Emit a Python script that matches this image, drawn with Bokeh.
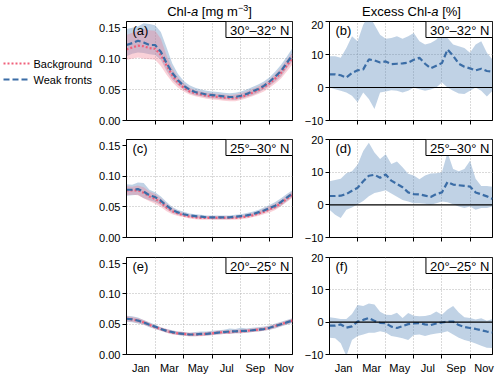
from bokeh.plotting import figure
from bokeh.layouts import column, row
from bokeh.models import (Range1d, FixedTicker, CustomJSTickFormatter, NumeralTickFormatter,
                          Label, Span)
from bokeh.embed import file_html
from bokeh.resources import INLINE

# ---------------- data ----------------
month = [0.0, 0.4, 0.8, 1.2, 1.6, 2.0, 2.4, 2.8, 3.2, 3.6, 4.0, 4.4, 4.8, 5.2, 5.6,
         6.0, 6.4, 6.8, 7.2, 7.6, 8.0, 8.4, 8.8, 9.2, 9.6, 10.0, 10.4, 10.8, 11.2, 11.6]
month_tick_pos = [1, 3, 5, 7, 9, 11]
month_tick_labels = ["Jan", "Mar", "May", "Jul", "Sep", "Nov"]
month_grid_pos = [2, 4, 6, 8, 10]
lat_bands = ["30°–32° N", "25°–30° N", "20°–25° N"]
letters_left = ["(a)", "(c)", "(e)"]
letters_right = ["(b)", "(d)", "(f)"]
legend_labels = ["Background", "Weak fronts"]

# 30-32 N  chlorophyll (mg m-3)
a_wf_mean = [0.122, 0.125, 0.129, 0.126, 0.122, 0.122, 0.111, 0.093, 0.077, 0.065, 0.056, 0.050, 0.046, 0.044, 0.042,
             0.041, 0.040, 0.039, 0.038, 0.038, 0.040, 0.043, 0.047, 0.051, 0.056, 0.063, 0.071, 0.080, 0.093, 0.106]
a_wf_hi = [0.148, 0.150, 0.152, 0.157, 0.156, 0.154, 0.143, 0.118, 0.092, 0.075, 0.064, 0.057, 0.053, 0.050, 0.048,
           0.047, 0.046, 0.045, 0.044, 0.045, 0.047, 0.050, 0.054, 0.058, 0.063, 0.070, 0.079, 0.090, 0.103, 0.117]
a_wf_lo = [0.104, 0.108, 0.110, 0.109, 0.107, 0.106, 0.098, 0.080, 0.066, 0.057, 0.050, 0.044, 0.041, 0.039, 0.037,
           0.036, 0.035, 0.034, 0.034, 0.033, 0.035, 0.038, 0.041, 0.045, 0.050, 0.056, 0.063, 0.071, 0.084, 0.096]
a_bg_mean = [0.115, 0.118, 0.121, 0.120, 0.117, 0.116, 0.106, 0.089, 0.073, 0.061, 0.053, 0.047, 0.044, 0.042, 0.040,
             0.039, 0.038, 0.037, 0.036, 0.036, 0.038, 0.041, 0.045, 0.049, 0.054, 0.060, 0.068, 0.077, 0.089, 0.101]
a_bg_hi = [0.138, 0.142, 0.145, 0.148, 0.146, 0.145, 0.132, 0.105, 0.084, 0.070, 0.060, 0.053, 0.049, 0.047, 0.045,
           0.044, 0.043, 0.042, 0.041, 0.042, 0.044, 0.047, 0.051, 0.055, 0.060, 0.066, 0.075, 0.085, 0.098, 0.110]
a_bg_lo = [0.098, 0.100, 0.102, 0.100, 0.099, 0.098, 0.088, 0.074, 0.062, 0.053, 0.047, 0.042, 0.039, 0.037, 0.035,
           0.034, 0.033, 0.032, 0.031, 0.031, 0.033, 0.036, 0.039, 0.043, 0.047, 0.053, 0.060, 0.068, 0.079, 0.091]

# 25-30 N
c_wf_mean = [0.078, 0.078, 0.079, 0.075, 0.069, 0.066, 0.060, 0.052, 0.045, 0.041, 0.038, 0.036, 0.035, 0.034, 0.033,
             0.033, 0.033, 0.033, 0.033, 0.034, 0.035, 0.036, 0.038, 0.041, 0.044, 0.048, 0.052, 0.058, 0.065, 0.072]
c_wf_hi = [0.087, 0.086, 0.090, 0.089, 0.078, 0.074, 0.067, 0.058, 0.050, 0.045, 0.042, 0.039, 0.038, 0.037, 0.036,
           0.036, 0.036, 0.036, 0.036, 0.037, 0.038, 0.040, 0.042, 0.045, 0.049, 0.053, 0.058, 0.064, 0.071, 0.077]
c_wf_lo = [0.068, 0.069, 0.070, 0.064, 0.061, 0.058, 0.053, 0.046, 0.040, 0.037, 0.035, 0.033, 0.032, 0.031, 0.031,
           0.030, 0.030, 0.030, 0.030, 0.031, 0.032, 0.033, 0.035, 0.037, 0.040, 0.044, 0.047, 0.052, 0.059, 0.066]
c_bg_mean = [0.077, 0.077, 0.077, 0.073, 0.067, 0.063, 0.057, 0.049, 0.043, 0.039, 0.036, 0.034, 0.033, 0.032, 0.032,
             0.032, 0.032, 0.032, 0.032, 0.032, 0.033, 0.034, 0.036, 0.039, 0.042, 0.046, 0.050, 0.056, 0.063, 0.070]
c_bg_hi = [0.084, 0.083, 0.085, 0.082, 0.075, 0.071, 0.064, 0.055, 0.048, 0.043, 0.040, 0.037, 0.036, 0.035, 0.035,
           0.035, 0.035, 0.035, 0.035, 0.035, 0.036, 0.038, 0.040, 0.043, 0.047, 0.051, 0.055, 0.061, 0.068, 0.075]
c_bg_lo = [0.069, 0.070, 0.069, 0.064, 0.059, 0.055, 0.050, 0.043, 0.038, 0.035, 0.033, 0.031, 0.030, 0.029, 0.029,
           0.029, 0.029, 0.029, 0.029, 0.029, 0.030, 0.031, 0.033, 0.035, 0.038, 0.041, 0.045, 0.051, 0.058, 0.065]

# 20-25 N
e_wf_mean = [0.059, 0.058, 0.056, 0.053, 0.049, 0.046, 0.042, 0.039, 0.037, 0.035, 0.034, 0.033, 0.033, 0.034, 0.034,
             0.035, 0.036, 0.037, 0.038, 0.038, 0.039, 0.039, 0.040, 0.041, 0.042, 0.044, 0.047, 0.050, 0.053, 0.056]
e_wf_hi = [0.064, 0.063, 0.061, 0.057, 0.053, 0.049, 0.045, 0.042, 0.040, 0.038, 0.037, 0.036, 0.037, 0.038, 0.038,
           0.039, 0.040, 0.041, 0.043, 0.042, 0.044, 0.043, 0.044, 0.045, 0.046, 0.048, 0.051, 0.054, 0.057, 0.060]
e_wf_lo = [0.054, 0.053, 0.051, 0.049, 0.045, 0.042, 0.039, 0.036, 0.034, 0.032, 0.031, 0.030, 0.030, 0.031, 0.031,
           0.032, 0.033, 0.034, 0.034, 0.035, 0.035, 0.036, 0.037, 0.038, 0.039, 0.041, 0.043, 0.046, 0.049, 0.052]
e_bg_mean = [0.059, 0.058, 0.056, 0.053, 0.049, 0.045, 0.042, 0.039, 0.036, 0.035, 0.034, 0.033, 0.033, 0.033, 0.034,
             0.035, 0.036, 0.037, 0.037, 0.038, 0.038, 0.039, 0.040, 0.041, 0.042, 0.044, 0.047, 0.050, 0.053, 0.056]
e_bg_hi = [0.063, 0.062, 0.060, 0.057, 0.052, 0.048, 0.045, 0.042, 0.039, 0.038, 0.037, 0.036, 0.036, 0.036, 0.037,
           0.038, 0.039, 0.040, 0.040, 0.041, 0.041, 0.042, 0.043, 0.044, 0.045, 0.047, 0.050, 0.053, 0.056, 0.059]
e_bg_lo = [0.055, 0.054, 0.052, 0.049, 0.046, 0.042, 0.039, 0.036, 0.033, 0.032, 0.031, 0.030, 0.030, 0.030, 0.031,
           0.032, 0.033, 0.034, 0.034, 0.035, 0.035, 0.036, 0.037, 0.038, 0.039, 0.041, 0.044, 0.047, 0.050, 0.053]

# Excess Chl-a (%)
b_mean = [4.0, 4.0, 3.7, 3.0, 4.4, 5.2, 5.5, 8.5, 8.2, 7.6, 7.9, 7.1, 7.2, 7.3, 7.5,
          8.4, 9.0, 7.2, 5.8, 6.6, 7.4, 11.5, 9.6, 7.2, 6.3, 5.8, 5.2, 5.7, 5.0, 4.8]
b_hi = [9.5, 9.5, 9.0, 12.0, 15.5, 14.0, 19.0, 22.0, 19.0, 16.0, 14.8, 15.0, 15.5, 14.8, 15.5,
        16.5, 14.0, 13.0, 13.5, 14.5, 16.5, 15.0, 13.0, 12.5, 12.0, 10.5, 13.0, 14.0, 10.5, 8.5]
b_lo = [0.0, -0.5, -1.0, -1.5, -2.5, -4.5, -1.5, -3.5, -6.5, -1.5, -1.2, -0.8, -1.0, -1.5, -1.0,
        0.0, -0.5, -1.0, -0.6, 0.0, 1.5, 0.0, -1.0, -1.8, -2.0, -1.0, 0.0, -1.0, -2.7, -1.0]

d_mean = [2.7, 2.7, 2.8, 3.3, 4.3, 5.2, 7.2, 8.9, 9.2, 8.3, 9.3, 7.4, 6.4, 5.4, 3.8,
          3.3, 3.2, 2.8, 2.4, 3.3, 3.8, 7.0, 6.2, 6.0, 5.8, 5.6, 3.8, 3.2, 2.6, 1.8]
d_hi = [7.2, 7.6, 8.0, 9.7, 10.3, 12.3, 16.5, 19.0, 16.0, 14.0, 15.5, 12.5, 13.3, 11.5, 9.5,
        9.0, 7.8, 9.0, 9.6, 9.7, 10.0, 16.0, 11.0, 10.3, 11.0, 13.5, 8.0, 5.8, 5.8, 5.5]
d_lo = [-1.5, -3.0, -4.0, -1.5, -0.8, 0.2, 1.2, 2.6, 3.6, 4.0, 4.5, 3.5, 2.5, 1.5, 1.0,
        0.5, 0.5, 0.3, 0.0, 0.5, 1.0, 0.8, 0.2, -0.5, -1.0, -0.5, -1.5, -1.0, -1.0, -0.5]

f_mean = [-1.1, -1.1, -0.7, -1.7, -1.3, 0.2, 0.7, 1.3, 0.4, -0.2, -0.3, -1.4, -1.8, -1.2, -0.6,
          -0.4, -0.3, -0.7, -0.9, -0.4, -0.1, 0.2, 0.2, -0.9, -1.5, -1.8, -2.1, -2.5, -2.9, -3.2]
f_hi = [1.5, 1.3, 1.0, 1.0, 2.5, 5.3, 5.0, 5.8, 5.5, 3.2, 2.3, 2.2, 2.9, 1.3, 2.8,
        2.0, 1.8, 1.9, 2.3, 3.3, 2.3, 3.9, 5.0, 3.0, 1.5, 1.3, 0.8, 1.2, 0.4, 1.0]
f_lo = [-4.8, -5.0, -6.5, -10.5, -5.5, -4.3, -3.8, -3.3, -3.3, -2.8, -3.2, -4.3, -4.6, -5.0, -5.5,
        -4.0, -3.8, -4.3, -3.8, -3.5, -3.3, -2.8, -3.8, -4.8, -5.5, -6.0, -6.6, -7.3, -7.9, -8.0]

left_data = [
    (a_bg_mean, a_bg_lo, a_bg_hi, a_wf_mean, a_wf_lo, a_wf_hi),
    (c_bg_mean, c_bg_lo, c_bg_hi, c_wf_mean, c_wf_lo, c_wf_hi),
    (e_bg_mean, e_bg_lo, e_bg_hi, e_wf_mean, e_wf_lo, e_wf_hi),
]
right_data = [(b_mean, b_lo, b_hi), (d_mean, d_lo, d_hi), (f_mean, f_lo, f_hi)]

# ---------------- style ----------------
FONT = "Liberation Sans"
BLUE_LINE = "#3b6da6"
BLUE_FILL = "#4a7db5"
PINK_LINE = "#f0607b"
PINK_FILL = "#f27a8f"
GRID = "#b5b5b5"
X_MAX = 11.6
W = 496
TITLE_H = 20
LEG_W = 96
# per row: (border top, frame height, border bottom)
ROW_GEOM = [(1, 99, 9), (10, 98, 10), (10, 97, 20)]
BG_STYLE = dict(line_color=PINK_LINE, line_width=2.2, line_dash="2 2")
WF_STYLE = dict(line_color=BLUE_LINE, line_width=2.2, line_dash="6 3")


def make_fig(col, r):
    left = col == 0
    top, fh, bottom = ROW_GEOM[r]
    if left:
        bl = 126 - LEG_W if r == 0 else 126
    else:
        bl = 35
    p = figure(frame_width=166 if left else 163, frame_height=fh,
               x_range=Range1d(0, X_MAX),
               y_range=Range1d(0, 0.16) if left else Range1d(-10, 20),
               output_backend="svg", toolbar_location=None,
               min_border_left=bl,
               min_border_right=2 if left else 4,
               min_border_top=top, min_border_bottom=bottom)
    p.outline_line_color = "black"
    p.outline_line_alpha = 1
    p.outline_line_width = 1
    p.background_fill_color = "white"
    p.border_fill_color = "white"

    xa = p.xaxis[0]
    if r == 2:
        xa.ticker = FixedTicker(ticks=month_tick_pos, minor_ticks=month_grid_pos)
        xa.formatter = CustomJSTickFormatter(
            args=dict(pos=month_tick_pos, names=month_tick_labels),
            code="const i = pos.indexOf(Math.round(tick)); return i >= 0 ? names[i] : '';")
        xa.major_label_text_font = FONT
        xa.major_label_text_font_size = "11px"
        xa.major_label_text_color = "black"
        xa.major_label_standoff = 3
    else:
        xa.ticker = FixedTicker(ticks=[], minor_ticks=month_grid_pos)
    xa.major_tick_line_color = None
    xa.major_tick_out = 4
    xa.major_tick_in = 0
    xa.minor_tick_line_color = "black"
    xa.minor_tick_out = 4
    xa.minor_tick_in = 0
    xa.axis_line_color = "black"

    ya = p.yaxis[0]
    if left:
        ya.ticker = FixedTicker(ticks=[0, 0.05, 0.10, 0.15], minor_ticks=[])
        ya.formatter = NumeralTickFormatter(format="0.00")
    else:
        ya.ticker = FixedTicker(ticks=[-10, 0, 10, 20], minor_ticks=[])
        ya.formatter = CustomJSTickFormatter(
            code="return tick < 0 ? '\u2212' + Math.abs(tick).toFixed(0) : tick.toFixed(0);")
    ya.major_tick_out = 4
    ya.major_tick_in = 0
    ya.major_tick_line_color = "black"
    ya.minor_tick_line_color = None
    ya.axis_line_color = "black"
    ya.major_label_text_font = FONT
    ya.major_label_text_font_size = "11px"
    ya.major_label_text_color = "black"
    ya.major_label_standoff = 2

    p.xgrid.ticker = FixedTicker(ticks=month_grid_pos)
    p.ygrid.ticker = FixedTicker(ticks=[0.05, 0.10] if left else [10])
    for g in (p.xgrid, p.ygrid):
        g.grid_line_color = GRID
        g.grid_line_dash = "1 2"
        g.grid_line_width = 1
    return p


def add_box_and_letter(p, ytop, box_text, letter):
    p.add_layout(Label(x=X_MAX, y=ytop, text=box_text, anchor="top_right",
                       text_font=FONT, text_font_size="13px", text_color="black",
                       background_fill_color="white", background_fill_alpha=1,
                       border_line_color="black", border_line_width=1,
                       padding=dict(left=4, right=3, top=1, bottom=0)))
    p.add_layout(Label(x=0, y=ytop, text=letter, anchor="top_left", x_offset=6, y_offset=-1,
                       text_font=FONT, text_font_size="13px", text_color="black"))


def bare_fig(w, h):
    p = figure(frame_width=w, frame_height=h, x_range=Range1d(0, w), y_range=Range1d(0, h),
               output_backend="svg", toolbar_location=None,
               x_axis_location=None, y_axis_location=None,
               min_border_left=0, min_border_right=0, min_border_top=0, min_border_bottom=0)
    p.outline_line_color = None
    p.grid.visible = False
    p.background_fill_color = "white"
    p.border_fill_color = "white"
    return p


def add_title(p, xc, mid_y, segs):
    total = sum(s[4] for s in segs)
    x = xc - total / 2.0
    for text, style, size, dy, w in segs:
        p.add_layout(Label(x=x, y=mid_y + dy, text=text,
                           text_align="left", text_baseline="middle",
                           text_font=FONT, text_font_style=style,
                           text_font_size=f"{size}px", text_color="black"))
        x += w


# ---- title strip ----
title_fig = bare_fig(W, TITLE_H)
add_title(title_fig, 209, 9, [
    ("Chl-", "normal", 13, 0, 23.8),
    ("a", "italic", 13, 0, 7.2 + 3.6),
    ("[mg m", "normal", 13, 0, 36.1),
    ("\u22123", "normal", 9, 4, 10.3),
    ("]", "normal", 13, 0, 3.6),
])
add_title(title_fig, 411, 9, [
    ("Excess Chl-", "normal", 13, 0, 69.3),
    ("a", "italic", 13, 0, 7.2 + 3.6),
    ("[%]", "normal", 13, 0, 18.8),
])

# ---- legend strip, left of the first row (pixel coordinates) ----
h0 = sum(ROW_GEOM[0])
leg_fig = bare_fig(LEG_W, h0)
legend_rows = [(legend_labels[0], BG_STYLE, h0 - 42), (legend_labels[1], WF_STYLE, h0 - 58)]
for text, style, yk in legend_rows:
    leg_fig.line(x=[3, 29], y=[yk, yk], **style)
    leg_fig.add_layout(Label(x=33, y=yk, text=text, text_align="left", text_baseline="middle",
                             text_font=FONT, text_font_size="11px", text_color="black"))

rows = [title_fig]
for r in range(3):
    pl = make_fig(0, r)
    bg_m, bg_lo, bg_hi, wf_m, wf_lo, wf_hi = left_data[r]
    pl.varea(x=month, y1=wf_lo, y2=wf_hi, fill_color=BLUE_FILL, fill_alpha=0.35)
    pl.varea(x=month, y1=bg_lo, y2=bg_hi, fill_color=PINK_FILL, fill_alpha=0.35)
    pl.line(month, bg_m, **BG_STYLE)
    pl.line(month, wf_m, **WF_STYLE)
    add_box_and_letter(pl, 0.16, lat_bands[r], letters_left[r])

    pr = make_fig(1, r)
    m, lo, hi = right_data[r]
    pr.varea(x=month, y1=lo, y2=hi, fill_color=BLUE_FILL, fill_alpha=0.35)
    pr.line(month, m, **WF_STYLE)
    pr.add_layout(Span(location=0, dimension="width", line_color="black", line_width=1.2))
    add_box_and_letter(pr, 20, lat_bands[r], letters_right[r])
    if r == 0:
        rows.append(row(leg_fig, pl, pr))
    else:
        rows.append(row(pl, pr))

layout = column(*rows)
open("out.html", "w").write(file_html(layout, INLINE))
